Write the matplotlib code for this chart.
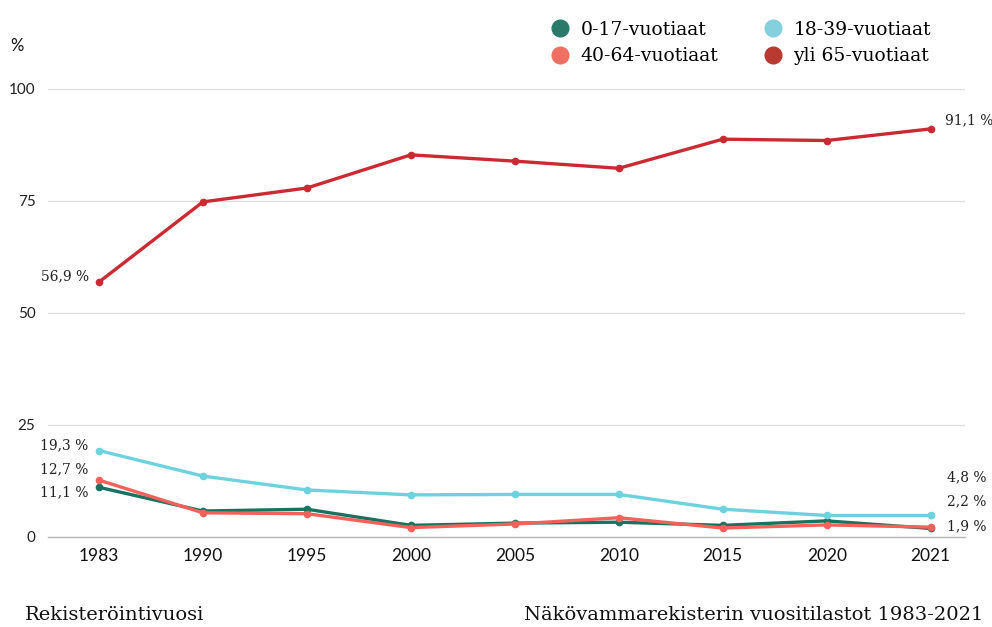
import matplotlib
matplotlib.use("Agg")
import matplotlib.pyplot as plt
from matplotlib.lines import Line2D

years = ["1983", "1990", "1995", "2000", "2005", "2010", "2015", "2020", "2021"]
age_0_17 = [11.1, 5.8, 6.2, 2.6, 3.1, 3.3, 2.6, 3.6, 1.9]
age_18_39 = [19.3, 13.6, 10.5, 9.4, 9.5, 9.5, 6.2, 4.8, 4.8]
age_40_64 = [12.7, 5.4, 5.2, 2.1, 2.9, 4.3, 2.0, 2.7, 2.2]
age_65 = [56.9, 74.8, 77.9, 85.3, 83.9, 82.3, 88.8, 88.5, 91.1]
series_names = ["0-17-vuotiaat", "18-39-vuotiaat", "40-64-vuotiaat", "yli 65-vuotiaat"]
y_ticks = [0, 25, 50, 75, 100]

line_colors = ["#17735f", "#6ed2de", "#f2625a", "#cc2a33"]
legend_colors = ["#2b7a69", "#86cfdc", "#ef7062", "#b83a31"]

SERIF = ["DejaVu Serif"]
SANS = ["Lato", "DejaVu Sans"]

fig = plt.figure(figsize=(9.92, 6.27), dpi=100)
W, H = 992, 627
ax = fig.add_axes([48 / W, 1 - 537 / H, (965 - 48) / W, (537 - 89) / H])

x = list(range(len(years)))
all_series = [age_0_17, age_18_39, age_40_64, age_65]
order = [1, 0, 2, 3]
for i in order:
    ax.plot(x, all_series[i], color=line_colors[i], lw=2.4, marker="o",
            markersize=4.5, solid_joinstyle="round", zorder=3 + i)

ax.set_xlim(-0.49, 8.33)
ax.set_ylim(0, 100)
ax.set_yticks(y_ticks)
ax.set_yticklabels([str(v) for v in y_ticks], fontsize=11, family=SANS, color="#222222")
ax.set_xticks(x)
ax.set_xticklabels(years, fontsize=12.5, family=SANS, color="#111111")
ax.tick_params(axis="both", length=0)
ax.tick_params(axis="x", pad=8)
ax.tick_params(axis="y", pad=9)
for s in ["top", "right", "left"]:
    ax.spines[s].set_visible(False)
ax.spines["bottom"].set_color("#b8b8b8")
ax.spines["bottom"].set_linewidth(1.0)
ax.grid(axis="y", color="#dddddd", lw=0.9)
ax.set_axisbelow(True)

# value labels (first and last points)
lab_kw = dict(fontsize=10, family=SERIF, color="#222222", va="center")
ax.text(-0.09, 58.2, "56,9 %", ha="right", **lab_kw)
ax.text(8.14, 93.1, "91,1 %", ha="left", **lab_kw)
ax.text(-0.10, 20.5, "19,3 %", ha="right", **lab_kw)
ax.text(-0.10, 15.2, "12,7 %", ha="right", **lab_kw)
ax.text(-0.10, 10.0, "11,1 %", ha="right", **lab_kw)
ax.text(8.16, 13.3, "4,8 %", ha="left", **lab_kw)
ax.text(8.16, 8.0, "2,2 %", ha="left", **lab_kw)
ax.text(8.16, 2.5, "1,9 %", ha="left", **lab_kw)

# "%" unit label
fig.text(10 / W, 1 - 46 / H, "%", fontsize=12, family=SANS, color="#111111", va="center")

# legend (rows: 0-17 / 18-39, then 40-64 / yli 65)
handles = [Line2D([0], [0], marker="o", linestyle="none", markersize=12,
                  markerfacecolor=c, markeredgecolor=c) for c in legend_colors]
leg_order = [0, 2, 1, 3]
fig.legend([handles[i] for i in leg_order], [series_names[i] for i in leg_order],
           ncol=2, loc="upper left", bbox_to_anchor=(532 / W, 1 - 4 / H),
           frameon=False, prop={"family": SERIF, "size": 13.5},
           handletextpad=0.5, columnspacing=2.3, labelspacing=0.45,
           handlelength=1.2)

fig.text(25 / W, 1 - 615 / H, "Rekisteröintivuosi", fontsize=14, family=SERIF,
         color="#111111", va="center", ha="left")
fig.text(983 / W, 1 - 615 / H, "Näkövammarekisterin vuositilastot 1983-2021",
         fontsize=14, family=SERIF, color="#111111", va="center", ha="right")

fig.savefig("out.png", dpi=100)
